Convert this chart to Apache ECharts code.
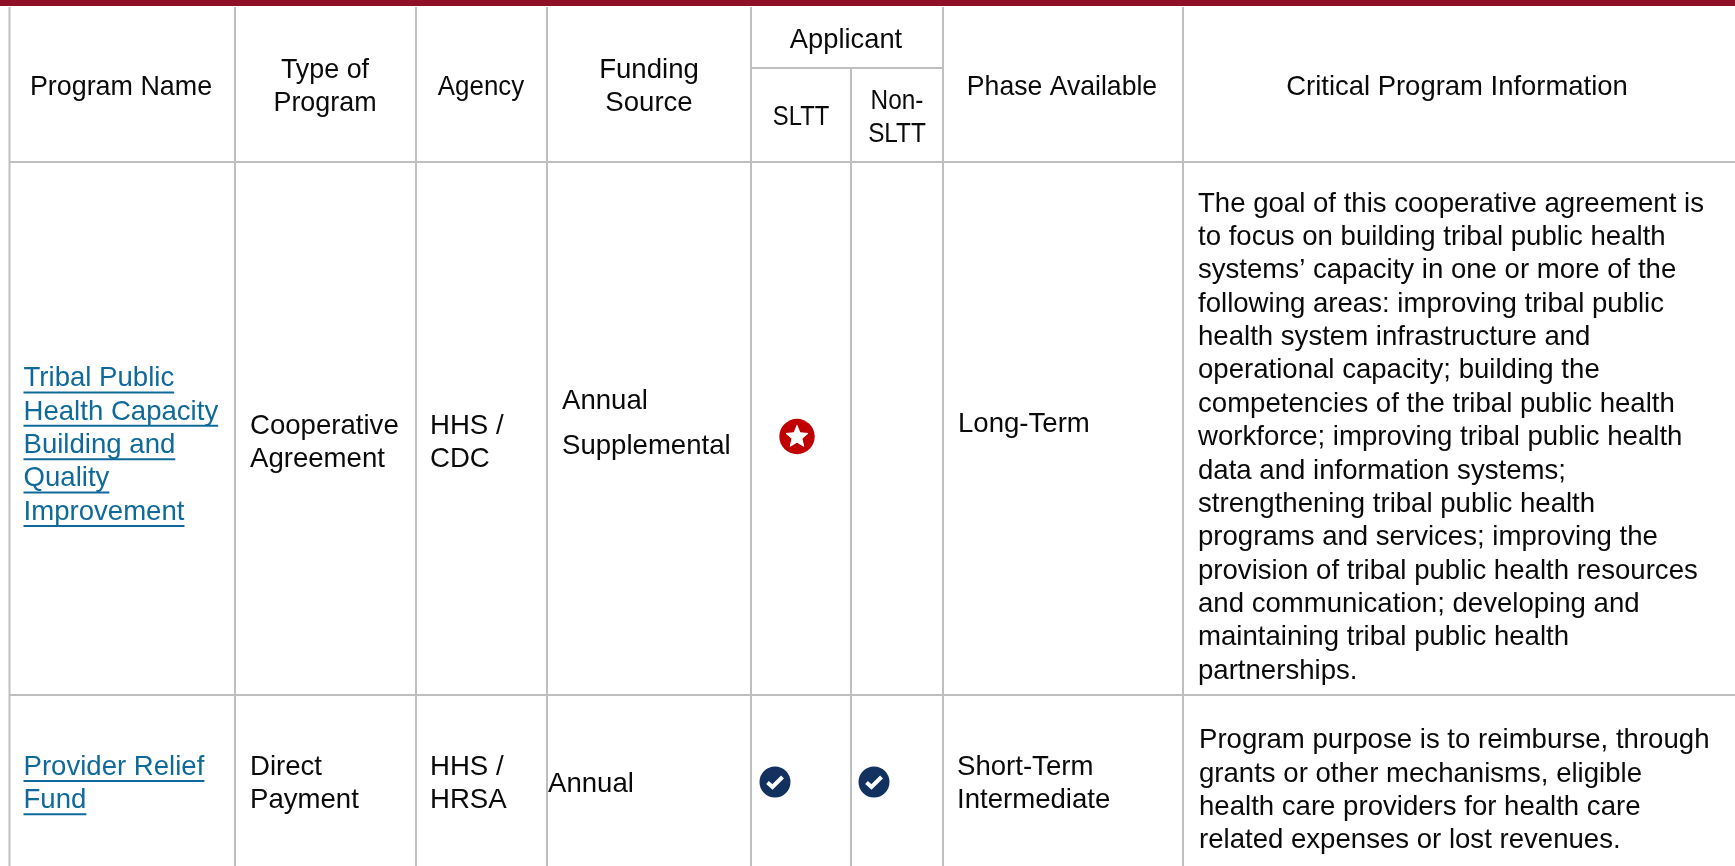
<!DOCTYPE html>
<html>
<head>
<meta charset="utf-8">
<style>
html,body{margin:0;padding:0;background:#fff;}
#main{width:1735px;height:866px;}
</style>
</head>
<body>
<div id="main"></div>
<script src="https://cdn.jsdelivr.net/npm/echarts@6/dist/echarts.min.js"></script>
<script>
// table content
var programNames = [['Tribal Public','Health Capacity','Building and','Quality','Improvement'],['Provider Relief','Fund']];
var programTypes = [['Cooperative','Agreement'],['Direct','Payment']];
var agencies = [['HHS /','CDC'],['HHS /','HRSA']];
var fundingSources = [['Annual','Supplemental'],['Annual']];
var sltt = ['star','check'];
var nonSltt = ['','check'];
var phases = [['Long-Term'],['Short-Term','Intermediate']];
var criticalInfo = [
  ['The goal of this cooperative agreement is','to focus on building tribal public health','systems\u2019 capacity in one or more of the','following areas: improving tribal public','health system infrastructure and','operational capacity; building the','competencies of the tribal public health','workforce; improving tribal public health','data and information systems;','strengthening tribal public health','programs and services; improving the','provision of tribal public health resources','and communication; developing and','maintaining tribal public health','partnerships.'],
  ['Program purpose is to reimburse, through','grants or other mechanisms, eligible','health care providers for health care','related expenses or lost revenues.']
];
var headers = [
  {lines:['Program Name'],x:121,y:87,sx:0.96},
  {lines:['Type of','Program'],x:325,y:70,sx:0.96},
  {lines:['Agency'],x:481,y:87,sx:0.925},
  {lines:['Funding','Source'],x:649,y:70,sx:0.985},
  {lines:['Applicant'],x:846,y:40,sx:0.975},
  {lines:['SLTT'],x:801,y:117,sx:0.85},
  {lines:['Non-','SLTT'],x:897,y:101,sx:0.87},
  {lines:['Phase Available'],x:1062,y:87,sx:0.95},
  {lines:['Critical Program Information'],x:1457,y:87,sx:0.98}
];

// layout
var colLines = [9.5,235,416,547,751,851,943,1183];
var headerBottom = 162, applicantSplit = 68, rowLine = 695;
var lineHeight = 33.35;
var textFont = '28px "Liberation Sans"';
var textScale = 0.985;
var textColor = '#0a0a0a', linkColor = '#0f6a9b', gridColor = '#bfbfbf';

var measure = document.createElement('canvas').getContext('2d');
measure.font = textFont;

// every text line becomes one data item: x, y, text, align, link flag, x scale
var textItems = [];
function addLines(lines, x, y, align, link, sx) {
  lines.forEach(function (t, i) {
    textItems.push([x, y + i * lineHeight, t, align, link ? 1 : 0, sx || textScale]);
  });
}
headers.forEach(function (h) { addLines(h.lines, h.x, h.y, 'center', false, h.sx); });
addLines(programNames[0], 23.5, 378.5, 'left', true);
addLines(programNames[1], 23.5, 767, 'left', true);
addLines(programTypes[0], 250, 426, 'left');
addLines(programTypes[1], 250, 767, 'left');
addLines(agencies[0], 430, 426, 'left');
addLines(agencies[1], 430, 767, 'left');
// this cell has a wider line gap than the others
addLines(fundingSources[0].slice(0,1), 562, 401, 'left');
addLines(fundingSources[0].slice(1), 562, 446.5, 'left');
addLines(fundingSources[1], 548, 784, 'left');
addLines(phases[0], 958, 424, 'left');
addLines(phases[1], 957, 767, 'left');
addLines(criticalInfo[0], 1198, 204, 'left');
addLines(criticalInfo[1], 1199, 740.5, 'left');

var iconItems = [
  [797, 436.5, sltt[0]],
  [775, 782, sltt[1]],
  [874, 782, nonSltt[1]]
];

var gridSegs = [
  [colLines[0],7,colLines[0],866],
  [colLines[0],headerBottom,1735,headerBottom],
  [colLines[0],rowLine,1735,rowLine],
  [colLines[4],applicantSplit,colLines[6],applicantSplit]
];
colLines.slice(1).forEach(function (x) {
  if (x === colLines[5]) gridSegs.push([x,applicantSplit,x,866]);
  else gridSegs.push([x,7,x,866]);
});

var myChart = echarts.init(document.getElementById('main'));
myChart.setOption({
  backgroundColor:'#fff',
  animation:false,
  grid:{left:0,right:0,top:0,bottom:0},
  xAxis:{type:'value',min:0,max:1735,show:false},
  yAxis:{type:'value',min:0,max:866,inverse:true,show:false},
  series:[
    {
      type:'custom',
      coordinateSystem:'cartesian2d',
      silent:true,
      data:gridSegs,
      renderItem:function (params, api) {
        var a = api.coord([api.value(0),api.value(1)]);
        var b = api.coord([api.value(2),api.value(3)]);
        return {type:'line',shape:{x1:a[0],y1:a[1],x2:b[0],y2:b[1]},style:{stroke:gridColor,lineWidth:2}};
      },
      encode:{x:[0,2],y:[1,3]}
    },
    {
      // dark red band along the top
      type:'custom',
      coordinateSystem:'cartesian2d',
      silent:true,
      data:[[0,0,1735,6]],
      renderItem:function (params, api) {
        var a = api.coord([api.value(0),api.value(1)]);
        var b = api.coord([api.value(2),api.value(3)]);
        return {type:'rect',shape:{x:a[0],y:a[1],width:b[0]-a[0],height:b[1]-a[1]},style:{fill:'#8f0f24'}};
      },
      encode:{x:[0,2],y:[1,3]}
    },
    {
      type:'custom',
      coordinateSystem:'cartesian2d',
      silent:true,
      data:textItems,
      dimensions:['x','y',{name:'text',type:'ordinal'},{name:'align',type:'ordinal'},'link','sx'],
      renderItem:function (params, api) {
        var item = textItems[params.dataIndex];
        var p = api.coord([item[0],item[1]]);
        var children = [{
          type:'text',
          style:{x:0,y:0,text:item[2],font:textFont,fill:item[4]?linkColor:textColor,align:item[3],verticalAlign:'middle'}
        }];
        if (item[4]) {
          var w = measure.measureText(item[2]).width;
          children.push({type:'line',shape:{x1:0,y1:14,x2:w,y2:14},style:{stroke:linkColor,lineWidth:2}});
        }
        return {type:'group',x:p[0],y:p[1],scaleX:item[5],children:children};
      },
      encode:{x:0,y:1}
    },
    {
      type:'custom',
      coordinateSystem:'cartesian2d',
      silent:true,
      data:iconItems,
      dimensions:['x','y',{name:'kind',type:'ordinal'}],
      renderItem:function (params, api) {
        var item = iconItems[params.dataIndex];
        var p = api.coord([item[0],item[1]]);
        var cx = p[0], cy = p[1];
        if (item[2] === 'star') {
          var pts = [];
          for (var i = 0; i < 10; i++) {
            var r = i % 2 ? 5.2 : 11.5;
            var ang = -Math.PI/2 + i*Math.PI/5;
            pts.push([cx + r*Math.cos(ang), cy + 0.5 + r*Math.sin(ang)]);
          }
          return {type:'group',children:[
            {type:'circle',shape:{cx:cx,cy:cy,r:17.7},style:{fill:'#c00000'}},
            {type:'polygon',shape:{points:pts},style:{fill:'#fff',stroke:'#fff',lineWidth:1,lineJoin:'round'}}
          ]};
        }
        return {type:'group',children:[
          {type:'circle',shape:{cx:cx,cy:cy,r:15.5},style:{fill:'#12315f'}},
          {type:'polyline',shape:{points:[[cx-7.5,cy+0.5],[cx-2.5,cy+5],[cx+7.5,cy-5]]},style:{stroke:'#fff',fill:null,lineWidth:4}}
        ]};
      },
      encode:{x:0,y:1}
    }
  ]
});
</script>
</body>
</html>
